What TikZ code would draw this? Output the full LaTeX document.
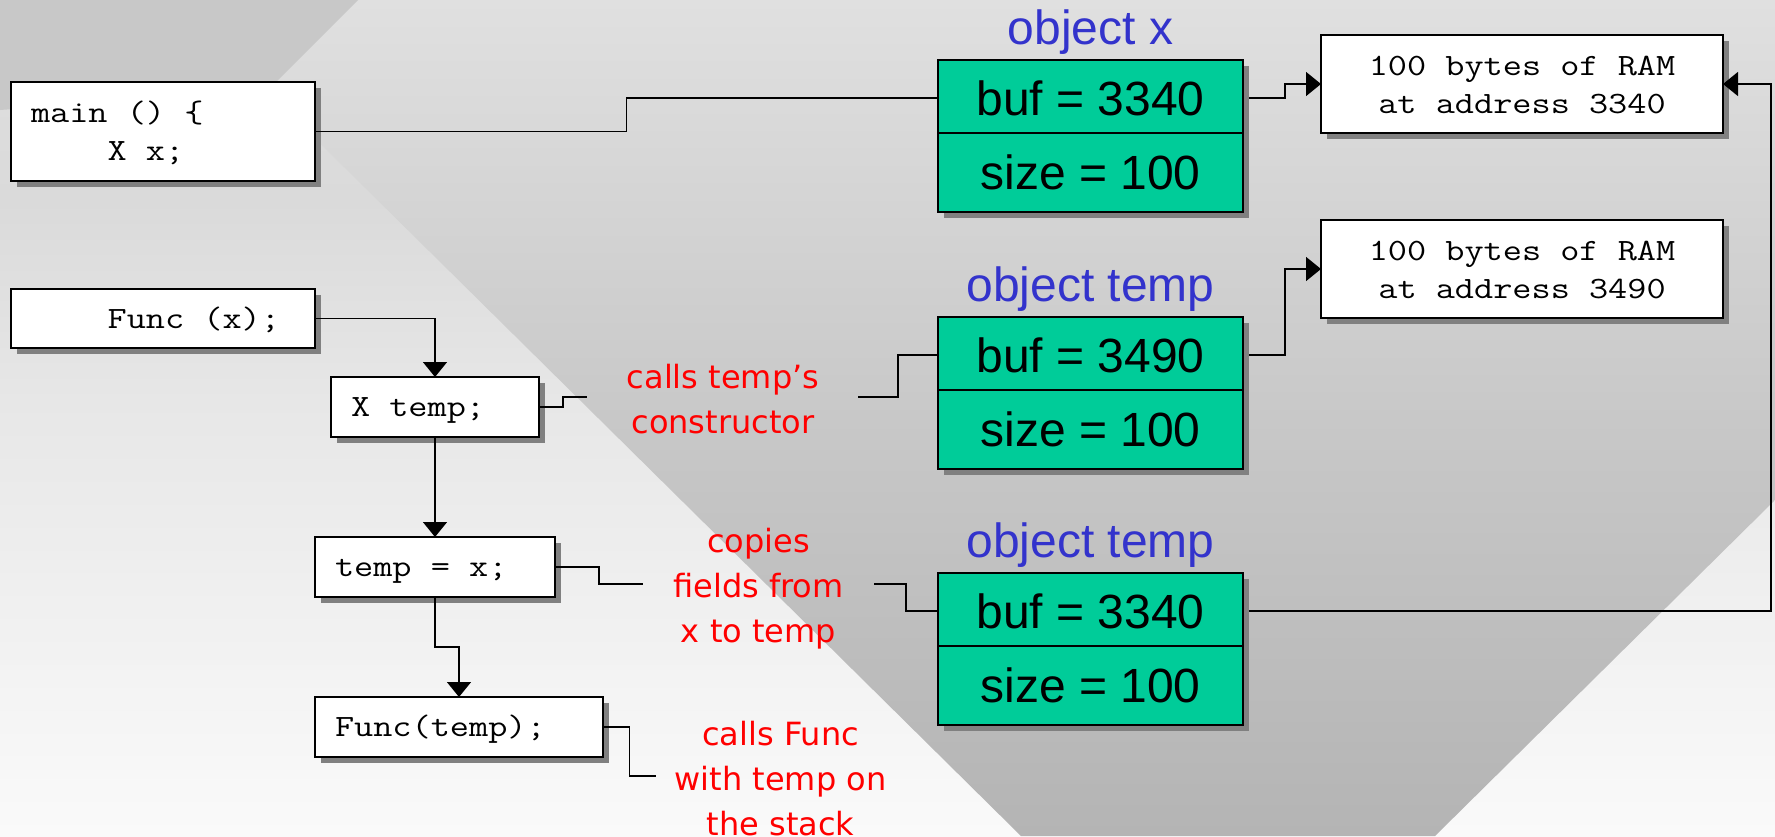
\documentclass[tikz,border=0pt]{standalone}
\usepackage{fontspec}
\setmainfont{Liberation Sans}
\newfontfamily\notefont{DejaVu Sans}
\newfontfamily\codefont{Latin Modern Mono}[FakeStretch=1.2]
\usetikzlibrary{arrows.meta,calc,shadows}

\definecolor{cellgreen}{RGB}{0,204,153}
\definecolor{titleblue}{RGB}{51,51,204}
\definecolor{shadowgray}{RGB}{128,128,128}
\definecolor{cornergray}{RGB}{200,200,200}
\definecolor{bgA}{RGB}{250,250,250}
\definecolor{bgB}{RGB}{231,231,231}
\definecolor{bgC}{RGB}{218,218,218}
\definecolor{bgD}{RGB}{224,224,224}
\definecolor{vA}{RGB}{180,180,180}
\definecolor{vB}{RGB}{200,200,200}
\definecolor{vC}{RGB}{224,224,224}

% page background and the darker diagonal band
\pgfdeclareverticalshading{pagebg}{100bp}{color(0bp)=(bgA); color(25bp)=(bgA); color(51bp)=(bgB); color(63bp)=(bgC); color(75bp)=(bgD); color(100bp)=(bgD)}
\pgfdeclareverticalshading{vband}{100bp}{color(0bp)=(vA); color(25bp)=(vA); color(50bp)=(vB); color(75bp)=(vC); color(100bp)=(vC)}

% code text: fixed-pitch, a space as wide as a character
\newcommand\codesetup{\codefont\fontsize{31}{38}\selectfont}
\newcommand\cstrut{\spaceskip=\fontcharwd\font`0\relax\xspaceskip=\spaceskip\rule[-6pt]{0pt}{32pt}}
\newcommand\nstrut{\rule[-13.5pt]{0pt}{45pt}}

\begin{document}
\begin{tikzpicture}[x=1pt,y=-1pt,
  boxshadow/.style={drop shadow={shadow xshift=6pt,shadow yshift=-6pt,fill=shadowgray,opacity=1}},
  codebox/.style={draw,line width=2pt,fill=white,anchor=north west,outer sep=0pt,
    inner xsep=20pt,inner ysep=0pt,align=left,font=\codesetup,boxshadow},
  rambox/.style={codebox,align=center,text width=362pt,minimum width=402pt,minimum height=98pt},
  greencell/.style={draw,line width=2pt,fill=cellgreen,anchor=north west,outer sep=0pt,
    inner sep=0pt,minimum width=305pt,font=\fontsize{48}{56}\selectfont,boxshadow},
  objtitle/.style={text=titleblue,font=\fontsize{48}{56}\selectfont,anchor=base,inner sep=0pt},
  redlabel/.style={text=red,font=\notefont\fontsize{32}{45}\selectfont,align=center,inner sep=0pt},
  wire/.style={line width=1.4pt},
  arrowed/.style={-{Triangle[length=15pt,width=24pt]}}]

\useasboundingbox (0,0) rectangle (1775,836);

% background
\shade[shading=pagebg] (0,0) rectangle (1775,836);
\shade[shading=vband] (175,0) -- (1021,836) -- (1435,836) -- (1775,500) -- (1775,0) -- cycle;
\fill[cornergray] (0,0) -- (358,0) -- (268,90) -- (0,110) -- cycle;

% code boxes
\node[codebox,text width=264pt,minimum width=304pt,minimum height=99pt] (main) at (11,82)
  {\cstrut main () \{\\\cstrut\hphantom{XXXX}X x;};
\node[codebox,text width=264pt,minimum width=304pt,minimum height=59pt] (funcx) at (11,289)
  {\cstrut\hphantom{XXXX}Func (x);};
\node[codebox,text width=168pt,minimum width=208pt,minimum height=60pt] (xtemp) at (331,377)
  {\cstrut X temp;};
\node[codebox,text width=200pt,minimum width=240pt,minimum height=60pt] (assign) at (315,537)
  {\cstrut temp = x;};
\node[codebox,text width=248pt,minimum width=288pt,minimum height=60pt] (functemp) at (315,697)
  {\cstrut Func(temp);};

% memory blocks
\node[rambox] (ram1) at (1321,35) {\cstrut 100 bytes of RAM\\\cstrut at address 3340};
\node[rambox] (ram2) at (1321,220) {\cstrut 100 bytes of RAM\\\cstrut at address 3490};

% objects
\node[objtitle] (t1) at (1090.5,44) {object x};
\node[greencell,minimum height=76pt] (bx1t) at (938,60) {buf = 3340};
\node[greencell,minimum height=79pt] (bx1b) at (938,133) {size = 100};

\node[objtitle] (t2) at (1090.5,301) {object temp};
\node[greencell,minimum height=76pt] (bx2t) at (938,317) {buf = 3490};
\node[greencell,minimum height=79pt] (bx2b) at (938,390) {size = 100};

\node[objtitle] (t3) at (1090.5,557) {object temp};
\node[greencell,minimum height=76pt] (bx3t) at (938,573) {buf = 3340};
\node[greencell,minimum height=79pt] (bx3b) at (938,646) {size = 100};

% annotations
\node[redlabel] (n1) at (723,401.5) {\nstrut calls temp’s\\\nstrut constructor};
\node[redlabel] (n2) at (758.5,588) {\nstrut copies\\\nstrut fields from\\\nstrut x to temp};
\node[redlabel] (n3) at (780.5,781) {\nstrut calls Func\\\nstrut with temp on\\\nstrut the stack};
\coordinate (n1w) at (587,397);
\coordinate (n1e) at (858,397);
\coordinate (n2w) at (643,584);
\coordinate (n2e) at (874,584);
\coordinate (n3w) at (656,776);
\coordinate (rail) at (1771,400);

% control flow
\draw[wire,arrowed] (funcx.east) -| (xtemp.north);
\draw[wire,arrowed] (xtemp.south) -- (assign.north);
\draw[wire,arrowed] (assign.south) |- ($(assign.south)!.5!(functemp.north)$) -| (functemp.north);

% links to objects
\draw[wire] (main.east) -| ($(main.east)!.5!(bx1t.west)$) |- (bx1t.west);
\draw[wire] (xtemp.east) -| ($(xtemp.east)!.5!(n1w)$) |- (n1w);
\draw[wire] (n1e) -| ($(n1e)!.5!(bx2t.west)$) |- (bx2t.west);
\draw[wire] (assign.east) -| ($(assign.east)!.5!(n2w)$) |- (n2w);
\draw[wire] (n2e) -| ($(n2e)!.5!(bx3t.west)$) |- (bx3t.west);
\draw[wire] (functemp.east) -| ($(functemp.east)!.5!(n3w)$) |- (n3w);

% buffer pointers
\draw[wire,arrowed] ([xshift=6pt]bx1t.east) -| ($([xshift=6pt]bx1t.east)!.5!(ram1.west)$) |- (ram1.west);
\draw[wire,arrowed] ([xshift=6pt]bx2t.east) -| ($([xshift=6pt]bx2t.east)!.5!(ram2.west)$) |- (ram2.west);
\draw[wire,arrowed] ([xshift=6pt]bx3t.east) -| (rail) |- (ram1.east);
\end{tikzpicture}
\end{document}
